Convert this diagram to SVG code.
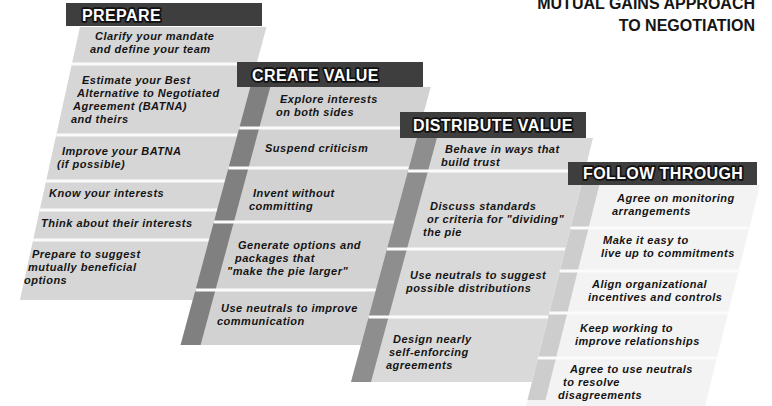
<svg xmlns="http://www.w3.org/2000/svg" width="772" height="406" viewBox="0 0 772 406">
  <style>
    .bg { fill: #ffffff; }
    .panel1 { fill: #d6d6d6; }
    .panel2 { fill: #d2d2d2; }
    .panel3 { fill: #d9d9d9; }
    .panel4 { fill: #f3f3f3; }
    .stripe2 { fill: #808080; }
    .stripe3 { fill: #8e8e8e; }
    .stripe4 { fill: #cdcdcd; }
    .sep { stroke: #fbfbfb; stroke-width: 3; fill: none; }
    .bar { fill: #3e3e3e; }
    .head { font-family: "Liberation Sans", Arial, sans-serif; font-weight: bold; font-size: 16px; letter-spacing: 0.4px; fill: #ffffff; stroke: #111111; stroke-width: 3.5px; stroke-linejoin: round; paint-order: stroke; }
    .t { font-family: "Liberation Sans", Arial, sans-serif; font-style: italic; font-weight: bold; font-size: 11px; letter-spacing: 0.5px; fill: #141414; }
    .title { font-family: "Liberation Sans", Arial, sans-serif; font-weight: bold; font-size: 16px; fill: #151515; text-anchor: end; }
  </style>

  <rect class="bg" x="0" y="0" width="772" height="406"/>

  <!-- heading, top right -->
  <g id="title">
    <text class="title" x="755" y="9">MUTUAL GAINS APPROACH</text>
    <text class="title" x="755" y="31">TO NEGOTIATION</text>
  </g>

  <!-- column 1: PREPARE -->
  <g id="prepare">
    <polygon class="panel1" points="80,27 266.5,27 192.8,300 19.9,300"/>
    <line class="sep" x1="71.9" y1="64" x2="256.5" y2="64"/>
    <line class="sep" x1="56.2" y1="135" x2="237.3" y2="135"/>
    <line class="sep" x1="46.1" y1="181" x2="224.9" y2="181"/>
    <line class="sep" x1="39.7" y1="210" x2="217.1" y2="210"/>
    <line class="sep" x1="33.1" y1="240" x2="209" y2="240"/>
    <rect class="bar" x="66" y="3" width="196" height="23"/>
    <text class="head" x="82" y="21">PREPARE</text>
    <text class="t" x="95" y="40">Clarify your mandate</text>
    <text class="t" x="90" y="53">and define your team</text>
    <text class="t" x="82" y="84">Estimate your Best</text>
    <text class="t" x="77" y="97">Alternative to Negotiated</text>
    <text class="t" x="73" y="110">Agreement (BATNA)</text>
    <text class="t" x="71" y="123">and theirs</text>
    <text class="t" x="62" y="155">Improve your BATNA</text>
    <text class="t" x="57" y="168">(if possible)</text>
    <text class="t" x="49" y="197">Know your interests</text>
    <text class="t" x="41" y="227">Think about their interests</text>
    <text class="t" x="32" y="258">Prepare to suggest</text>
    <text class="t" x="28" y="271">mutually beneficial</text>
    <text class="t" x="24" y="284">options</text>
  </g>

  <!-- column 2: CREATE VALUE -->
  <g id="create-value">
    <polygon class="panel2" points="250.3,87 430.7,87 361,345 180.6,345"/>
    <polygon class="stripe2" points="250.3,87 270.3,87 200.6,345 180.6,345"/>
    <line class="sep" x1="239.2" y1="128" x2="419.6" y2="128"/>
    <line class="sep" x1="228.4" y1="168" x2="408.8" y2="168"/>
    <line class="sep" x1="213.8" y1="222" x2="394.2" y2="222"/>
    <line class="sep" x1="195.5" y1="290" x2="375.9" y2="290"/>
    <rect class="bar" x="237" y="62" width="186" height="25"/>
    <text class="head" x="252" y="81">CREATE VALUE</text>
    <text class="t" x="280" y="103">Explore interests</text>
    <text class="t" x="276" y="116">on both sides</text>
    <text class="t" x="265" y="152">Suspend criticism</text>
    <text class="t" x="253" y="197">Invent without</text>
    <text class="t" x="249" y="210">committing</text>
    <text class="t" x="238" y="249">Generate options and</text>
    <text class="t" x="235" y="262">packages that</text>
    <text class="t" x="227" y="275">"make the pie larger"</text>
    <text class="t" x="221" y="312">Use neutrals to improve</text>
    <text class="t" x="217" y="325">communication</text>
  </g>

  <!-- column 3: DISTRIBUTE VALUE -->
  <g id="distribute-value">
    <polygon class="panel3" points="416.9,138 593,138 532,382 351,382"/>
    <polygon class="stripe3" points="416.9,138 436.9,138 371,382 351,382"/>
    <line class="sep" x1="408" y1="171" x2="584.8" y2="171"/>
    <line class="sep" x1="386.9" y1="249" x2="565.3" y2="249"/>
    <line class="sep" x1="368.6" y1="317" x2="548.3" y2="317"/>
    <rect class="bar" x="400" y="112" width="186" height="26"/>
    <text class="head" x="413" y="131">DISTRIBUTE VALUE</text>
    <text class="t" x="445" y="153">Behave in ways that</text>
    <text class="t" x="441" y="166">build trust</text>
    <text class="t" x="430" y="210">Discuss standards</text>
    <text class="t" x="427" y="223">or criteria for "dividing"</text>
    <text class="t" x="423" y="236">the pie</text>
    <text class="t" x="410" y="279">Use neutrals to suggest</text>
    <text class="t" x="406" y="292">possible distributions</text>
    <text class="t" x="393" y="343">Design nearly</text>
    <text class="t" x="389" y="356">self-enforcing</text>
    <text class="t" x="386" y="369">agreements</text>
  </g>

  <!-- column 4: FOLLOW THROUGH -->
  <g id="follow-through">
    <polygon class="panel4" points="581.3,185 760,185 705,406 526,406"/>
    <polygon class="stripe4" points="581.3,185 599.3,185 545.5,400 527.5,400"/>
    <line class="sep" x1="570.5" y1="228" x2="749" y2="228"/>
    <line class="sep" x1="559.8" y1="271" x2="738" y2="271"/>
    <line class="sep" x1="549.3" y1="313" x2="728" y2="313"/>
    <line class="sep" x1="538" y1="358" x2="717" y2="358"/>
    <rect class="bar" x="568" y="162" width="189" height="23"/>
    <text class="head" x="583" y="179">FOLLOW THROUGH</text>
    <text class="t" x="617" y="202">Agree on monitoring</text>
    <text class="t" x="612" y="215">arrangements</text>
    <text class="t" x="603" y="244">Make it easy to</text>
    <text class="t" x="601" y="257">live up to commitments</text>
    <text class="t" x="592" y="288">Align organizational</text>
    <text class="t" x="588" y="301">incentives and controls</text>
    <text class="t" x="580" y="332">Keep working to</text>
    <text class="t" x="575" y="345">improve relationships</text>
    <text class="t" x="570" y="373">Agree to use neutrals</text>
    <text class="t" x="563" y="386">to resolve</text>
    <text class="t" x="558" y="399">disagreements</text>
  </g>
</svg>
